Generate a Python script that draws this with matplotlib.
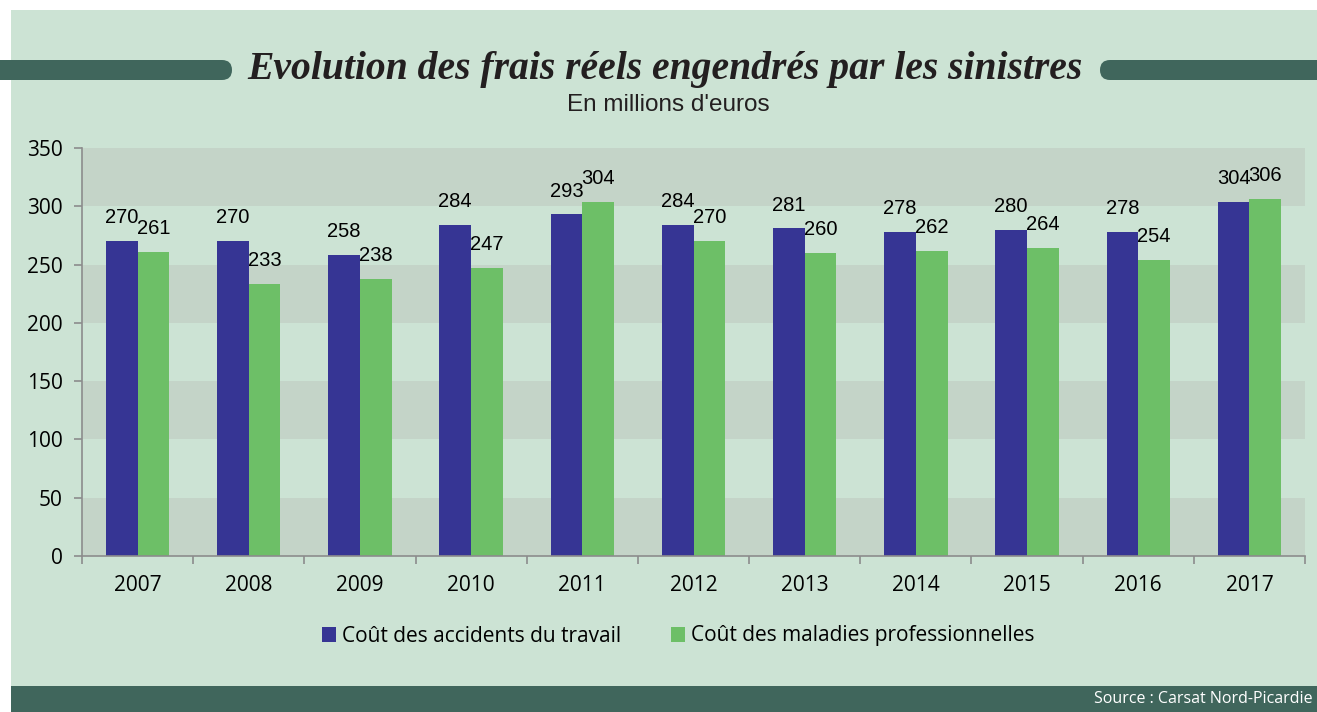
import numpy as np
import matplotlib.pyplot as plt
from matplotlib.patches import Rectangle, FancyBboxPatch

# Données (millions d'euros)
annees = ["2007", "2008", "2009", "2010", "2011", "2012", "2013", "2014", "2015", "2016", "2017"]
accidents = [270, 270, 258, 284, 293, 284, 281, 278, 280, 278, 304]
maladies = [261, 233, 238, 247, 304, 270, 260, 262, 264, 254, 306]

titre = "Evolution des frais réels engendrés par les sinistres"
sous_titre = "En millions d'euros"
legende = ["Coût des accidents du travail", "Coût des maladies professionnelles"]
source = "Source : Carsat Nord-Picardie"

# Couleurs
fond = "#cce3d4"
bande = "#c4d4c8"
fonce = "#40665c"
bleu = "#363594"
vert = "#6dbf67"

W, H = 1317, 712
fig = plt.figure(figsize=(W / 100, H / 100), dpi=100, facecolor="white")

# calque de fond en pixels
bg = fig.add_axes([0, 0, 1, 1], zorder=0)
bg.set_xlim(0, W)
bg.set_ylim(H, 0)
bg.axis("off")
bg.add_patch(Rectangle((11, 10), W - 11, H - 10, color=fond, lw=0))
bg.add_patch(Rectangle((11, 686), W - 11, H - 686, color=fonce, lw=0))
bg.add_patch(FancyBboxPatch((-40, 60), 272, 20, boxstyle="round,pad=0,rounding_size=10",
                            color=fonce, lw=0))
bg.add_patch(FancyBboxPatch((1100, 60), 260, 20, boxstyle="round,pad=0,rounding_size=10",
                            color=fonce, lw=0))
bg.text(665, 69, titre, ha="center", va="center", fontsize=28.5, fontweight="bold",
        fontstyle="italic", family="Liberation Serif", color="#231f20")
bg.text(668, 105, sous_titre, ha="center", va="center", fontsize=17.5,
        family="Liberation Sans", color="#231f20")
bg.text(1313, 699, source, ha="right", va="center", fontsize=11.5,
        family="Open Sans", color="white")

# graphique
ax = fig.add_axes([82 / W, 1 - 556 / H, (1305 - 82) / W, (556 - 148) / H], zorder=1)
ax.patch.set_alpha(0)
x = np.arange(len(annees))
w = 0.285
for lo in range(0, 350, 100):
    ax.axhspan(lo, lo + 50, color=bande, lw=0, zorder=0)

b1 = ax.bar(x - w / 2, accidents, w, color=bleu, zorder=2, label=legende[0])
b2 = ax.bar(x + w / 2, maladies, w, color=vert, zorder=2, label=legende[1])
for barres in (b1, b2):
    ax.bar_label(barres, padding=10, fontsize=14.5, family="Liberation Sans", color="black")

ax.set_xlim(-0.5, len(annees) - 0.5)
ax.set_ylim(0, 350)
ax.set_yticks(range(0, 351, 50))
ax.set_xticks(np.arange(-0.5, len(annees), 1))
ax.set_xticklabels([])
ax.set_xticks(x, minor=True)
ax.set_xticklabels(annees, minor=True)
ax.tick_params(axis="x", which="minor", length=0, pad=14, labelsize=15)
ax.tick_params(axis="x", which="major", length=6, color="#8c8c8c", width=1.2)
ax.tick_params(axis="y", length=6, color="#8c8c8c", width=1.2, pad=8, labelsize=15)
for lab in ax.get_xticklabels(minor=True) + ax.get_yticklabels():
    lab.set_family("Open Sans")
for s in ["top", "right"]:
    ax.spines[s].set_visible(False)
for s in ["left", "bottom"]:
    ax.spines[s].set_color("#8c8c8c")
    ax.spines[s].set_linewidth(1.2)

fig.legend(handles=[b1, b2], labels=legende, loc="center", bbox_to_anchor=(678 / W, 1 - 636 / H),
           ncol=2, frameon=False, prop={"family": "Open Sans", "size": 15},
           handlelength=0.7, handleheight=0.7, handletextpad=0.25, columnspacing=2.4)

fig.savefig("out.png", dpi=100)
